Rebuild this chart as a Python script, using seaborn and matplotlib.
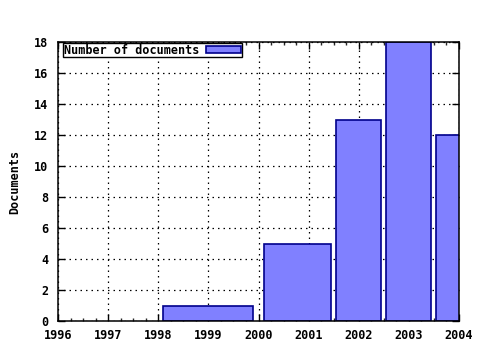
import matplotlib
matplotlib.use("Agg")
import matplotlib.pyplot as plt
from matplotlib.ticker import MultipleLocator
import seaborn as sns

years = [1999, 2001, 2002, 2003, 2004]
docs = [1, 5, 13, 18, 12]
series_label = "Number of documents"
y_label = "Documents"

sns.set_style("ticks")
plt.rcParams["font.family"] = ["DejaVu Sans Mono"]
plt.rcParams["font.weight"] = "bold"
plt.rcParams["text.color"] = "black"
plt.rcParams["axes.labelcolor"] = "black"

# gnuplot-style relative box widths (0.9 of neighbour spacing)
rel = 0.9
lefts, widths = [], []
n = len(years)
for i, x in enumerate(years):
    lh = rel * (x - years[i - 1]) / 2 if i > 0 else None
    rh = rel * (years[i + 1] - x) / 2 if i < n - 1 else None
    if lh is None:
        lh = rh
    if rh is None:
        rh = lh
    lefts.append(x - lh)
    widths.append(lh + rh)

fig = plt.figure(figsize=(4.8, 3.5), dpi=100)
ax = fig.add_axes([58 / 480, 1 - 321 / 350, (459 - 58) / 480, (321 - 42) / 350])

ax.bar(lefts, docs, width=widths, align="edge", color="#8080ff",
       edgecolor="#00008b", linewidth=1.2, label=series_label, zorder=3)

ax.set_xlim(1996, 2004)
ax.set_ylim(0, 18)
ax.xaxis.set_minor_locator(MultipleLocator(0.25))
ax.yaxis.set_major_locator(MultipleLocator(2))
ax.set_xticks(range(1996, 2005))
ax.set_xticklabels([str(y) for y in range(1996, 2005)])

ax.grid(True, which="major", color="black", linestyle=(0, (1.2, 3.2)), linewidth=0.9, zorder=1)
for s in ax.spines.values():
    s.set_color("black")
    s.set_linewidth(1.1)
    s.set_zorder(4)

ax.tick_params(axis="both", which="major", direction="in", length=5, width=1,
               top=True, right=True, labelsize=8.5, colors="black", pad=7)
ax.tick_params(axis="x", which="minor", direction="in", length=2.5, width=1,
               top=True, bottom=True)
ax.tick_params(axis="x", which="major", pad=6)
for lbl in ax.get_xticklabels() + ax.get_yticklabels():
    lbl.set_fontweight("bold")
    lbl.set_color("black")

ax.set_ylabel(y_label, fontsize=8.5, fontweight="bold", labelpad=9, color="black")

leg = ax.legend(loc="upper left", bbox_to_anchor=(5 / 401, 1 - 1 / 279),
                frameon=True, fancybox=False,
                borderpad=0.05, handlelength=3.0, handleheight=0.45,
                handletextpad=0.6, borderaxespad=0.0, markerfirst=False,
                prop={"weight": "bold", "size": 8.5})
leg.get_frame().set_edgecolor("black")
leg.get_frame().set_linewidth(1)
leg.get_frame().set_alpha(1)
for t in leg.get_texts():
    t.set_color("black")
leg.set_zorder(5)

fig.savefig("out.png", dpi=100)
